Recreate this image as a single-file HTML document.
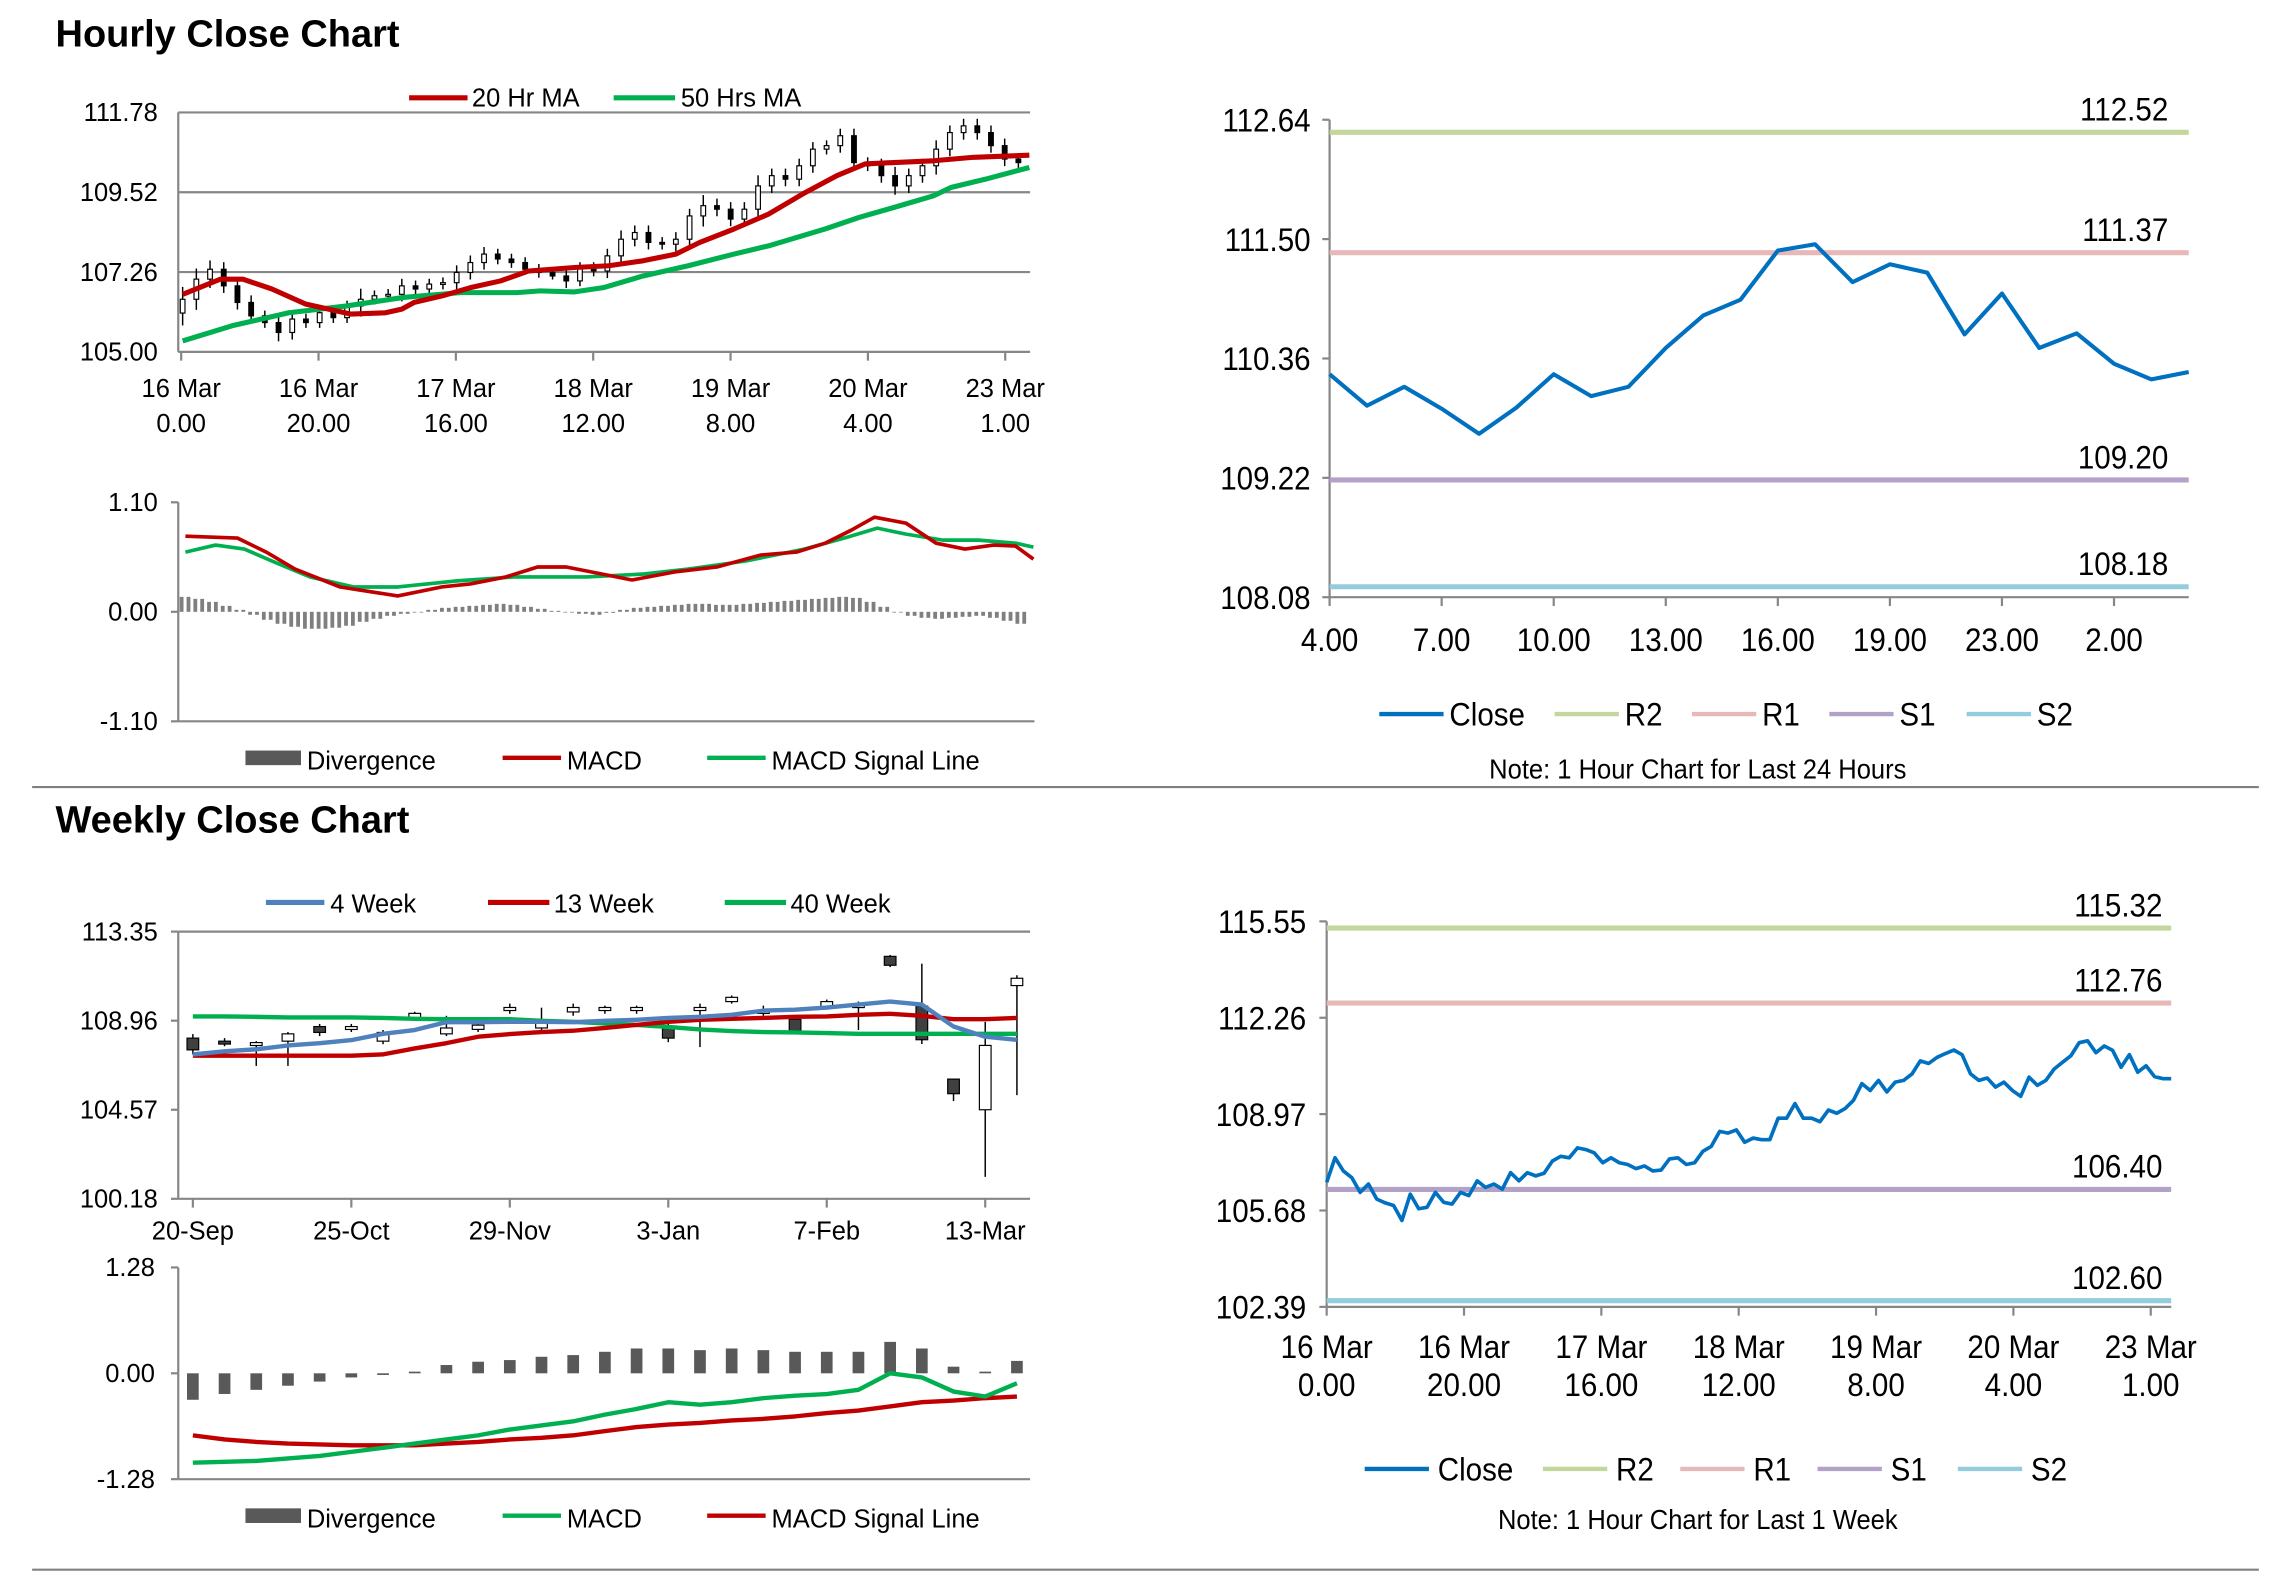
<!DOCTYPE html>
<html><head><meta charset="utf-8"><style>
html,body{margin:0;padding:0;background:#fff;}
svg{display:block;}
text{font-family:"Liberation Sans",Arial,sans-serif;fill:#000;}
</style></head>
<body>
<svg id="root" xmlns="http://www.w3.org/2000/svg" width="2291" height="1577" viewBox="0 0 1568 1080" preserveAspectRatio="none">
<text x="38" y="32" font-size="26" font-weight="bold">Hourly Close Chart</text>
<text x="38" y="570" font-size="26" font-weight="bold">Weekly Close Chart</text>
<line x1="22" y1="539" x2="1546" y2="539" stroke="#808080" stroke-width="1.5"/>
<line x1="22" y1="1075" x2="1546" y2="1075" stroke="#808080" stroke-width="1.5"/>
</svg>
<script>
// ---------- DATA ----------
const hClose=[106.49,107.06,107.34,106.87,106.40,106.02,105.83,105.55,105.93,105.83,106.11,105.97,106.30,106.49,106.59,106.63,106.87,106.78,106.92,106.96,107.25,107.53,107.77,107.63,107.53,107.34,107.25,107.15,107.01,107.39,107.29,107.72,108.19,108.38,108.10,108.05,108.19,108.85,109.14,109.04,108.76,109.04,109.70,109.99,109.89,110.27,110.74,110.84,111.12,110.36,110.27,109.99,109.70,109.99,110.27,110.74,111.21,111.40,111.21,110.84,110.46,110.36];
const hOpen0=106.10;
const hWick=[0.35,0.3,0.25,0.2,0.2,0.2,0.15,0.25,0.2,0.15,0.15,0.15,0.15,0.3,0.15,0.15,0.2,0.15,0.15,0.15,0.2,0.2,0.2,0.15,0.15,0.15,0.15,0.1,0.2,0.15,0.15,0.2,0.25,0.2,0.2,0.15,0.2,0.2,0.3,0.2,0.2,0.2,0.3,0.2,0.2,0.2,0.2,0.15,0.2,0.2,0.15,0.2,0.25,0.2,0.2,0.25,0.2,0.2,0.2,0.2,0.2,0.15];
const hMa20Idx=[0,2.75,4.4,6.5,9,12.3,14.8,16,16.9,19,21,23.2,25.25,28.6,31.1,33.6,36,37.75,40.25,42.75,45.25,47.75,49.8,51.9,54.8,57.75,61.8];
const hMa20=[106.63,107.06,107.06,106.78,106.35,106.07,106.11,106.21,106.40,106.59,106.82,107.01,107.29,107.39,107.44,107.58,107.77,108.10,108.48,108.90,109.47,109.99,110.32,110.36,110.41,110.51,110.57];
const hMa50Idx=[0,3.6,7.75,11.9,16.1,20.25,24.4,26.1,28.6,30.7,33.6,36.9,40.25,42.75,46.9,49.4,51.9,54.8,56.1,58.6,61.8];
const hMa50=[105.31,105.74,106.11,106.30,106.54,106.68,106.68,106.73,106.70,106.82,107.15,107.44,107.77,108.00,108.48,108.81,109.09,109.42,109.66,109.89,110.22];
const hTicks=[111.78,109.52,107.26,105.00];
const hXLab1=["16 Mar","16 Mar","17 Mar","18 Mar","19 Mar","20 Mar","23 Mar"];
const hXLab2=["0.00","20.00","16.00","12.00","8.00","4.00","1.00"];
const hDiv=[0.15,0.13,0.1,0.06,0.02,-0.03,-0.08,-0.12,-0.15,-0.17,-0.17,-0.16,-0.14,-0.1,-0.07,-0.04,-0.02,0.0,0.02,0.04,0.05,0.06,0.07,0.08,0.07,0.05,0.03,0.01,0.0,-0.02,-0.03,-0.01,0.02,0.04,0.05,0.06,0.07,0.08,0.08,0.07,0.07,0.08,0.09,0.10,0.11,0.12,0.13,0.14,0.15,0.14,0.1,0.05,0.0,-0.04,-0.06,-0.07,-0.06,-0.05,-0.04,-0.06,-0.09,-0.12];
const hMacdIdx=[0.2,4,6.1,8.2,11.5,15.7,18.9,21,23.6,25.9,28,30.6,32.8,35.9,39,42.2,44.8,46.9,48.8,50.5,52.8,55,57.1,59.2,60.8,62.1];
const hMacd=[0.76,0.74,0.60,0.43,0.25,0.16,0.25,0.28,0.35,0.45,0.45,0.38,0.32,0.40,0.45,0.57,0.60,0.69,0.82,0.95,0.89,0.69,0.63,0.67,0.66,0.53];
const hSigIdx=[0.2,2.4,4.5,6.7,9.3,12.5,15.7,19.9,24.2,29.5,33.7,36.9,41.1,45.4,48.5,50.7,52.8,55.5,58.1,60.8,62.1];
const hSig=[0.60,0.67,0.63,0.50,0.35,0.25,0.25,0.31,0.35,0.35,0.38,0.43,0.51,0.63,0.75,0.84,0.78,0.72,0.72,0.69,0.65];
const hMacdTicks=[1.10,0.00,-1.10];
const dClose=[110.21,109.91,110.09,109.88,109.64,109.89,110.21,110.00,110.09,110.46,110.77,110.92,111.39,111.45,111.09,111.26,111.18,110.59,110.98,110.46,110.60,110.31,110.16,110.23];
const dTicks=[112.64,111.50,110.36,109.22,108.08];
const dXLabels=["4.00","7.00","10.00","13.00","16.00","19.00","23.00","2.00"];
const dLevels=[112.52,111.37,109.20,108.18];
const wOpen=[108.10,107.95,107.74,107.95,108.67,108.53,107.95,109.10,108.31,108.53,109.46,108.60,109.39,109.46,109.46,108.60,109.46,109.90,109.32,109.03,109.61,109.61,112.13,109.68,106.08,104.57,110.69];
const wClose=[107.52,107.88,107.88,108.31,108.38,108.67,108.38,109.32,108.60,108.74,109.61,108.89,109.61,109.61,109.61,108.10,109.61,110.11,109.46,108.46,109.90,109.75,111.69,108.02,105.36,107.74,111.05];
const wHigh=[108.3,108.1,107.95,108.4,108.8,108.8,108.5,109.4,109.2,109.0,109.8,109.6,109.8,109.7,109.7,108.8,109.8,110.2,109.7,109.1,110.0,109.9,112.2,111.77,106.1,108.9,111.2];
const wLow=[107.3,107.7,106.73,106.73,108.2,108.4,107.8,109.0,108.2,108.4,109.3,108.4,109.2,109.3,109.3,107.9,107.66,109.8,109.2,108.4,109.5,108.5,111.6,107.81,105.0,101.26,105.29];
const w4=[107.30,107.45,107.55,107.74,107.85,108.0,108.31,108.5,108.89,108.89,108.9,108.9,108.89,108.95,109.0,109.10,109.15,109.25,109.46,109.5,109.61,109.75,109.90,109.75,108.67,108.17,108.02];
const w13=[107.23,107.23,107.23,107.23,107.23,107.23,107.3,107.59,107.85,108.17,108.3,108.4,108.46,108.6,108.75,108.9,109.0,109.05,109.1,109.15,109.17,109.25,109.3,109.2,109.03,109.03,109.1];
const w40=[109.17,109.17,109.15,109.12,109.12,109.12,109.1,109.05,109.03,109.03,109.03,108.95,108.9,108.82,108.75,108.65,108.53,108.45,108.4,108.38,108.35,108.31,108.31,108.31,108.31,108.31,108.31];
const wTicks=[113.35,108.96,104.57,100.18];
const wXLabels=["20-Sep","25-Oct","29-Nov","3-Jan","7-Feb","13-Mar"];
const wXLabIdx=[0,5,10,15,20,25];
const wDiv=[-0.32,-0.25,-0.2,-0.15,-0.1,-0.05,-0.02,0.02,0.1,0.14,0.16,0.2,0.22,0.26,0.3,0.3,0.28,0.3,0.28,0.26,0.26,0.26,0.38,0.3,0.08,0.02,0.15];
const wMacd=[-1.08,-1.07,-1.06,-1.03,-1.0,-0.95,-0.9,-0.85,-0.8,-0.75,-0.68,-0.63,-0.58,-0.5,-0.43,-0.35,-0.38,-0.35,-0.3,-0.27,-0.25,-0.2,0.0,-0.05,-0.22,-0.28,-0.12];
const wSig=[-0.75,-0.8,-0.83,-0.85,-0.86,-0.87,-0.87,-0.87,-0.85,-0.83,-0.8,-0.78,-0.75,-0.7,-0.65,-0.62,-0.6,-0.57,-0.55,-0.52,-0.48,-0.45,-0.4,-0.35,-0.33,-0.3,-0.28];
const wMacdTicks=[1.28,0.00,-1.28];
const kClose=[106.64,107.48,107.03,106.80,106.30,106.58,106.07,105.94,105.85,105.34,106.24,105.74,105.79,106.30,105.96,105.90,106.30,106.19,106.69,106.47,106.58,106.41,106.97,106.69,106.97,106.86,106.95,107.37,107.53,107.48,107.82,107.76,107.65,107.31,107.48,107.31,107.25,107.11,107.20,107.03,107.06,107.44,107.48,107.25,107.31,107.70,107.87,108.38,108.32,108.43,108.01,108.15,108.10,108.10,108.83,108.83,109.33,108.83,108.83,108.71,109.11,109.00,109.16,109.44,110.01,109.78,110.12,109.73,110.06,110.12,110.34,110.79,110.70,110.91,111.04,111.16,111.00,110.34,110.12,110.20,109.89,110.06,109.78,109.58,110.23,109.95,110.12,110.51,110.74,110.96,111.41,111.47,111.07,111.30,111.15,110.57,111.00,110.40,110.62,110.25,110.18,110.18];
const kTicks=[115.55,112.26,108.97,105.68,102.39];
const kLevels=[115.32,112.76,106.40,102.60];
const kXLab1=["16 Mar","16 Mar","17 Mar","18 Mar","19 Mar","20 Mar","23 Mar"];
const kXLab2=["0.00","20.00","16.00","12.00","8.00","4.00","1.00"];

// ---------- HELPERS ----------
const NS="http://www.w3.org/2000/svg";
const root=document.getElementById('root');
function mk(tag,attrs,name,parent){
  const el=document.createElementNS(NS,tag);
  for(const k in attrs) el.setAttribute(k,attrs[k]);
  
  
  (parent||root).appendChild(el);
  return el;
}
function txt(s,x,y,size,anchor,name,sx){
  const el=mk('text',{transform:`translate(${x},${y}) scale(${sx||0.97},1)`,'font-size':size,'text-anchor':anchor||'start'},name);
  el.textContent=s;
  return el;
}
function ln(x1,y1,x2,y2,c,w,name){return mk('line',{x1,y1,x2,y2,stroke:c,'stroke-width':w},name);}
function poly(pts,c,w,name){return mk('polyline',{points:pts.map(p=>p[0].toFixed(1)+','+p[1].toFixed(1)).join(' '),fill:'none',stroke:c,'stroke-width':w,'stroke-linejoin':'round'},name);}
function scale(d0,d1,r0,r1){return v=>r0+(v-d0)/(d1-d0)*(r1-r0);}
const GRID='#868686', RED='#c00000', GRN='#00b050', BLUE='#0070c0', BLUE4='#4f81bd';
const CR2='#c3d69b', CR1='#e6b9b8', CS1='#b3a2c7', CS2='#93cddd';
const RS=22, RSX=0.92; // right chart text size / stretch

// ---------- TOP-LEFT: hourly candles ----------
(function(){
  const L=122,R=705,T=77,B=241;
  const y=scale(105.00,111.78,B,T);
  const x=scale(0,61,122+3,697);
  hTicks.forEach(v=>{ln(L,y(v),R,y(v),GRID,1.5,'gridline');txt(v.toFixed(2),108,y(v)+6,18,'end','y-tick-label');});
  ln(L,T,L,B,GRID,1.5,'y-axis');
  hXLab1.forEach((s,i)=>{const xx=124+94*i;ln(xx,B,xx,B+6,GRID,1.5,'x-tick');txt(s,xx,272,18,'middle','x-tick-label');txt(hXLab2[i],xx,296,18,'middle','x-tick-label');});
  hClose.forEach((c,i)=>{
    const o=i===0?hOpen0:hClose[i-1];
    const hi=Math.max(o,c)+hWick[i], lo=Math.min(o,c)-hWick[i];
    const xx=x(i);
    ln(xx,y(hi),xx,y(lo),'#000',1,'candle-wick');
    const top=y(Math.max(o,c)), h=Math.max(1.2,Math.abs(y(o)-y(c)));
    mk('rect',{x:xx-1.6,y:top,width:3.2,height:h,fill:c>=o?'#fff':'#000',stroke:'#000','stroke-width':0.8},'candle-body');
  });
  poly(hMa50Idx.map((k,i)=>[x(k),y(hMa50[i])]),GRN,3.5,'ma-50-line');
  poly(hMa20Idx.map((k,i)=>[x(k),y(hMa20[i])]),RED,3.5,'ma-20-line');
  ln(280,67,320,67,RED,3.5,'legend-ma20-swatch');txt('20 Hr MA',323,73,18,'start','legend-ma20-label');
  ln(420,67,462,67,GRN,3.5,'legend-ma50-swatch');txt('50 Hrs MA',466,73,18,'start','legend-ma50-label');
})();

// ---------- TOP-LEFT: hourly MACD ----------
(function(){
  const L=122,R=708,T=344,B=494;
  const y=scale(-1.10,1.10,B,T);
  const x=scale(0,61,125,697);
  ln(L,T,L,B,GRID,1.5,'y-axis');ln(L,B,R,B,GRID,1.5,'x-axis');
  hMacdTicks.forEach(v=>{ln(L-5,y(v),L,y(v),GRID,1.5,'y-tick');txt(v.toFixed(2),108,y(v)+6,18,'end','y-tick-label');});
  hDiv.forEach((v,i)=>{
    for(let s=0;s<2;s++){
      const xx=x(i)+s*4.7-2;
      mk('rect',{x:xx,y:Math.min(y(0),y(v)),width:2.6,height:Math.max(0.5,Math.abs(y(v)-y(0))),fill:'#7f7f7f'},'divergence-bar');
    }
  });
  poly(hSigIdx.map((k,i)=>[x(k),y(hSig[i])]),GRN,2.5,'macd-signal-line');
  poly(hMacdIdx.map((k,i)=>[x(k),y(hMacd[i])]),RED,2.5,'macd-line');
  mk('rect',{x:168,y:514,width:38,height:10,fill:'#595959'},'legend-divergence-swatch');txt('Divergence',210,527,18,'start','legend-divergence-label');
  ln(344,519,384,519,RED,3,'legend-macd-swatch');txt('MACD',388,527,18,'start','legend-macd-label');
  ln(484,519,524,519,GRN,3,'legend-signal-swatch');txt('MACD Signal Line',528,527,18,'start','legend-signal-label');
})();

// ---------- TOP-RIGHT: 24h close ----------
(function(){
  const L=910,R=1498,T=82,B=409;
  const y=scale(108.08,112.64,B,T);
  const x=scale(0,dClose.length-1,L,R);
  ln(L,T,L,B,GRID,1.5,'y-axis');ln(L,B,R,B,GRID,1.5,'x-axis');
  dTicks.forEach(v=>{ln(L-5,y(v),L,y(v),GRID,1.5,'y-tick');txt(v.toFixed(2),897,y(v)+8,RS,'end','y-tick-label',RSX);});
  dXLabels.forEach((s,i)=>{const xx=x(i*3);ln(xx,B,xx,B+6,GRID,1.5,'x-tick');txt(s,xx,446,RS,'middle','x-tick-label',RSX);});
  const cols=[CR2,CR1,CS2===0?0:CS1,CS2], nm=['r2','r1','s1','s2'];
  dLevels.forEach((v,i)=>{ln(L,y(v),R,y(v),cols[i],3.5,'level-'+nm[i]+'-line');txt(v.toFixed(2),1484,y(v)-8,RS,'end','level-'+nm[i]+'-label',RSX);});
  poly(dClose.map((v,i)=>[x(i),y(v)]),BLUE,2.8,'close-line');
  const lg=[['Close',BLUE,944],['R2',CR2,1064],['R1',CR1,1158],['S1',CS1,1252],['S2',CS2,1346]];
  lg.forEach(g=>{ln(g[2],489,g[2]+44,489,g[1],3,'legend-'+g[0].toLowerCase()+'-swatch');txt(g[0],g[2]+48,497,RS,'start','legend-'+g[0].toLowerCase()+'-label',RSX);});
  txt('Note: 1 Hour Chart for Last 24 Hours',1162,533,19,'middle','chart-note',0.92);
})();

// ---------- BOTTOM-LEFT: weekly candles ----------
(function(){
  const L=122,R=705,T=638,B=821;
  const y=scale(100.18,113.35,B,T);
  const x=scale(0,26,132,696);
  ln(L,T,R,T,GRID,1.5,'gridline');
  ln(L,T,L,B,GRID,1.5,'y-axis');ln(L,B,R,B,GRID,1.5,'x-axis');
  wTicks.forEach(v=>{ln(L-5,y(v),L,y(v),GRID,1.5,'y-tick');txt(v.toFixed(2),108,y(v)+6,18,'end','y-tick-label');});
  wXLabels.forEach((s,i)=>{const xx=x(wXLabIdx[i]);ln(xx,B,xx,B+6,GRID,1.5,'x-tick');txt(s,xx,849,18,'middle','x-tick-label');});
  wOpen.forEach((o,i)=>{
    const c=wClose[i], xx=x(i);
    ln(xx,y(wHigh[i]),xx,y(wLow[i]),'#000',1,'candle-wick');
    const top=y(Math.max(o,c)), h=Math.max(2,Math.abs(y(o)-y(c)));
    mk('rect',{x:xx-4,y:top,width:8,height:h,fill:c>=o?'#fff':'#404040',stroke:'#000','stroke-width':0.8},'candle-body');
  });
  poly(w40.map((v,i)=>[x(i),y(v)]),GRN,3,'ma-40-week-line');
  poly(w13.map((v,i)=>[x(i),y(v)]),RED,3,'ma-13-week-line');
  poly(w4.map((v,i)=>[x(i),y(v)]),BLUE4,3,'ma-4-week-line');
  ln(182,618,222,618,BLUE4,3.5,'legend-4week-swatch');txt('4 Week',226,625,18,'start','legend-4week-label');
  ln(334,618,376,618,RED,3.5,'legend-13week-swatch');txt('13 Week',379,625,18,'start','legend-13week-label');
  ln(496,618,538,618,GRN,3.5,'legend-40week-swatch');txt('40 Week',541,625,18,'start','legend-40week-label');
})();

// ---------- BOTTOM-LEFT: weekly MACD ----------
(function(){
  const L=122,R=705,T=868,B=1013;
  const y=scale(-1.28,1.28,B,T);
  const x=scale(0,26,132,696);
  ln(L,T,L,B,GRID,1.5,'y-axis');ln(L,B,R,B,GRID,1.5,'x-axis');
  wMacdTicks.forEach(v=>{ln(L-5,y(v),L,y(v),GRID,1.5,'y-tick');txt(v.toFixed(2),106,y(v)+6,18,'end','y-tick-label');});
  wDiv.forEach((v,i)=>{mk('rect',{x:x(i)-4,y:Math.min(y(0),y(v)),width:8,height:Math.max(0.8,Math.abs(y(v)-y(0))),fill:'#595959'},'divergence-bar');});
  poly(wSig.map((v,i)=>[x(i),y(v)]),RED,3,'macd-signal-line');
  poly(wMacd.map((v,i)=>[x(i),y(v)]),GRN,3,'macd-line');
  mk('rect',{x:168,y:1033,width:38,height:10,fill:'#595959'},'legend-divergence-swatch');txt('Divergence',210,1046,18,'start','legend-divergence-label');
  ln(344,1038,384,1038,GRN,3,'legend-macd-swatch');txt('MACD',388,1046,18,'start','legend-macd-label');
  ln(484,1038,524,1038,RED,3,'legend-signal-swatch');txt('MACD Signal Line',528,1046,18,'start','legend-signal-label');
})();

// ---------- BOTTOM-RIGHT: week close ----------
(function(){
  const L=908,R=1486,T=631,B=895;
  const y=scale(102.39,115.55,B,T);
  const x=scale(0,kClose.length-1,L,R);
  ln(L,T,L,B,GRID,1.5,'y-axis');ln(L,B,R,B,GRID,1.5,'x-axis');
  kTicks.forEach(v=>{ln(L-5,y(v),L,y(v),GRID,1.5,'y-tick');txt(v.toFixed(2),894,y(v)+8,RS,'end','y-tick-label',RSX);});
  kXLab1.forEach((s,i)=>{const xx=908+94*i;ln(xx,B,xx,B+6,GRID,1.5,'x-tick');txt(s,xx,930,RS,'middle','x-tick-label',RSX);txt(kXLab2[i],xx,956,RS,'middle','x-tick-label',RSX);});
  const cols=[CR2,CR1,CS1,CS2], nm=['r2','r1','s1','s2'];
  kLevels.forEach((v,i)=>{ln(L,y(v),R,y(v),cols[i],3.5,'level-'+nm[i]+'-line');txt(v.toFixed(2),1480,y(v)-8,RS,'end','level-'+nm[i]+'-label',RSX);});
  poly(kClose.map((v,i)=>[x(i),y(v)]),BLUE,2.5,'close-line');
  const lg=[['Close',BLUE,934],['R2',CR2,1056],['R1',CR1,1150],['S1',CS1,1244],['S2',CS2,1340]];
  lg.forEach(g=>{ln(g[2],1006,g[2]+44,1006,g[1],3,'legend-'+g[0].toLowerCase()+'-swatch');txt(g[0],g[2]+50,1014,RS,'start','legend-'+g[0].toLowerCase()+'-label',RSX);});
  txt('Note: 1 Hour Chart for Last 1 Week',1162,1047,19,'middle','chart-note',0.92);
})();
</script>
</body></html>
